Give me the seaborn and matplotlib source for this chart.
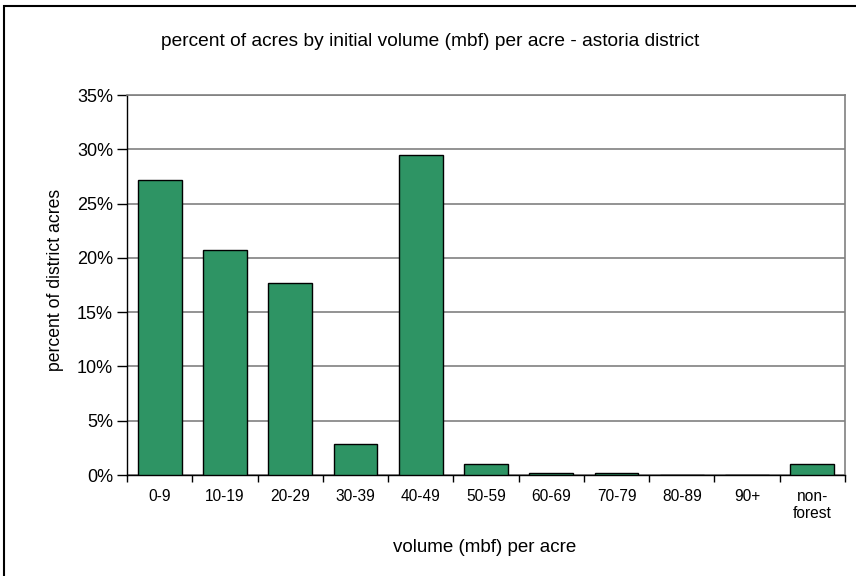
import matplotlib
matplotlib.use("Agg")
import matplotlib.pyplot as plt
import seaborn as sns
import pandas as pd
import numpy as np
from matplotlib.patches import Rectangle
from matplotlib.ticker import FuncFormatter, FixedLocator

categories = ["0-9", "10-19", "20-29", "30-39", "40-49", "50-59",
              "60-69", "70-79", "80-89", "90+", "non-\nforest"]
pct_acres = [27.2, 20.7, 17.7, 2.9, 29.5, 1.0, 0.15, 0.15, 0.0, 0.0, 1.0]
yticks = [0, 5, 10, 15, 20, 25, 30, 35]

sns.set_theme(style="white")
plt.rcParams["font.family"] = ["Liberation Sans", "DejaVu Sans"]
plt.rcParams["text.color"] = "black"

df = pd.DataFrame({"volume": categories, "pct": pct_acres})

W, H = 856, 576
fig = plt.figure(figsize=(W / 100, H / 100), dpi=100)
ax = fig.add_axes([127 / W, (H - 475) / H, 718 / W, 380 / H])

sns.barplot(data=df, x="volume", y="pct", color="#2E9464", saturation=1,
            width=0.67, edgecolor="black", linewidth=1.0, ax=ax, zorder=3)

ax.set_xlim(-0.5, len(categories) - 0.5)
ax.set_ylim(0, 35)
ax.set_yticks(yticks)
ax.yaxis.set_major_formatter(FuncFormatter(lambda v, p: f"{v:.0f}%"))
ax.grid(axis="y", color="#808080", linewidth=1.2, zorder=0)
ax.set_axisbelow(True)

# x ticks sit between the categories
ax.xaxis.set_minor_locator(FixedLocator(np.arange(-0.5, len(categories), 1.0)))
ax.tick_params(axis="x", which="major", length=0, pad=10, labelsize=11.2, labelcolor="black")
ax.tick_params(axis="x", which="minor", length=5, width=1, color="black", direction="out", bottom=True)
ax.tick_params(axis="y", length=7, width=1, color="black", direction="out", left=True,
               labelsize=13, pad=3, labelcolor="black")

for s in ["left", "bottom"]:
    ax.spines[s].set_color("black")
    ax.spines[s].set_linewidth(1.0)
for s in ["top", "right"]:
    ax.spines[s].set_color("#808080")
    ax.spines[s].set_linewidth(1.2)

ax.set_xlabel("")
ax.set_ylabel("")
fig.text(430 / W, 1 - 42 / H, "percent of acres by initial volume (mbf) per acre - astoria district",
         ha="center", va="center", fontsize=13.8, color="black")
fig.text(485 / W, 1 - 548 / H, "volume (mbf) per acre", ha="center", va="center",
         fontsize=13.5, color="black")
fig.text(56 / W, 1 - 280 / H, "percent of district acres", ha="center", va="center",
         rotation=90, fontsize=12.7, color="black")

# outer chart frame (right and bottom edges fall outside the image)
fig.patches.append(Rectangle((4 / W, -0.05), 1.2, 1 - 6 / H + 0.05, transform=fig.transFigure,
                             fill=False, edgecolor="black", linewidth=1.5))

fig.savefig("out.png", dpi=100)
